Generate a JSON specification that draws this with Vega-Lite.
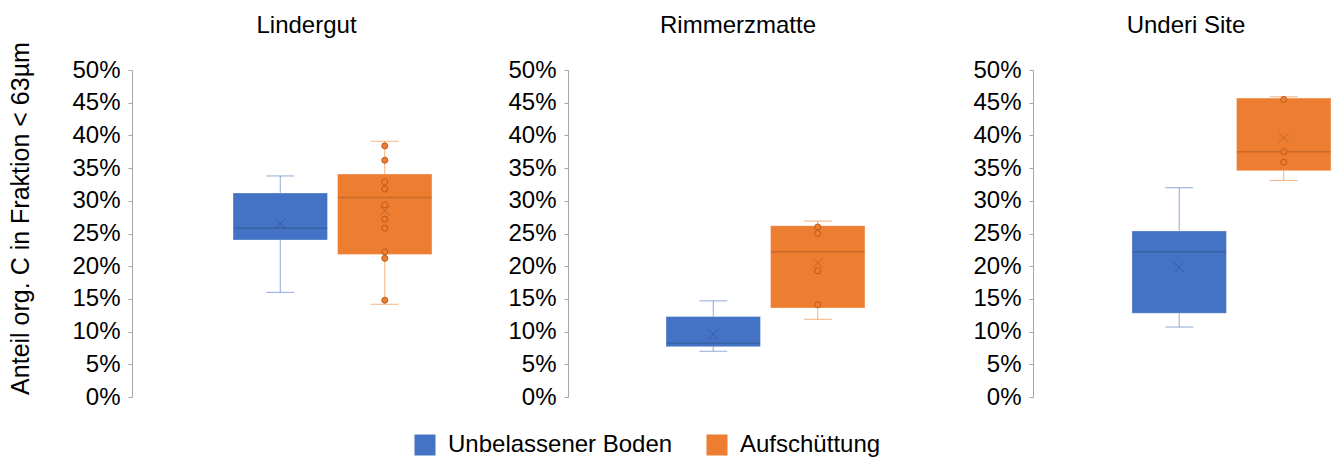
{
  "$schema": "https://vega.github.io/schema/vega-lite/v6.json",
  "background": "white",
  "padding": {"left": 8, "top": 13, "right": 0, "bottom": 0},
  "datasets": {
    "boxes": [
      {"panel": "Lindergut", "series": "Unbelassener Boden", "min": 0.160, "q1": 0.240, "median": 0.258, "q3": 0.312, "max": 0.338, "mean": 0.265},
      {"panel": "Lindergut", "series": "Aufschüttung", "min": 0.142, "q1": 0.218, "median": 0.305, "q3": 0.341, "max": 0.391, "mean": 0.285},
      {"panel": "Rimmerzmatte", "series": "Unbelassener Boden", "min": 0.070, "q1": 0.077, "median": 0.082, "q3": 0.123, "max": 0.147, "mean": 0.096},
      {"panel": "Rimmerzmatte", "series": "Aufschüttung", "min": 0.119, "q1": 0.136, "median": 0.222, "q3": 0.262, "max": 0.269, "mean": 0.205},
      {"panel": "Underi Site", "series": "Unbelassener Boden", "min": 0.107, "q1": 0.128, "median": 0.222, "q3": 0.254, "max": 0.320, "mean": 0.198},
      {"panel": "Underi Site", "series": "Aufschüttung", "min": 0.331, "q1": 0.346, "median": 0.375, "q3": 0.457, "max": 0.459, "mean": 0.396}
    ],
    "points": [
      {"panel": "Lindergut", "series": "Aufschüttung", "value": 0.384},
      {"panel": "Lindergut", "series": "Aufschüttung", "value": 0.362},
      {"panel": "Lindergut", "series": "Aufschüttung", "value": 0.329},
      {"panel": "Lindergut", "series": "Aufschüttung", "value": 0.318},
      {"panel": "Lindergut", "series": "Aufschüttung", "value": 0.294},
      {"panel": "Lindergut", "series": "Aufschüttung", "value": 0.272},
      {"panel": "Lindergut", "series": "Aufschüttung", "value": 0.258},
      {"panel": "Lindergut", "series": "Aufschüttung", "value": 0.222},
      {"panel": "Lindergut", "series": "Aufschüttung", "value": 0.212},
      {"panel": "Lindergut", "series": "Aufschüttung", "value": 0.148},
      {"panel": "Rimmerzmatte", "series": "Aufschüttung", "value": 0.260},
      {"panel": "Rimmerzmatte", "series": "Aufschüttung", "value": 0.250},
      {"panel": "Rimmerzmatte", "series": "Aufschüttung", "value": 0.193},
      {"panel": "Rimmerzmatte", "series": "Aufschüttung", "value": 0.141},
      {"panel": "Underi Site", "series": "Aufschüttung", "value": 0.455},
      {"panel": "Underi Site", "series": "Aufschüttung", "value": 0.375},
      {"panel": "Underi Site", "series": "Aufschüttung", "value": 0.359}
    ]
  },
  "spacing": 0,
  "resolve": {"scale": {"x": "independent", "y": "shared"}, "axis": {"y": "independent"}},
  "hconcat": [
    {
      "width": 375, "height": 327,
      "title": {"text": "Lindergut", "dx": -13, "offset": 4},
      "layer": [
        {"data": {"name": "boxes"}, "transform": [{"filter": "datum.panel === 'Lindergut'"}],
         "mark": {"type": "bar", "stroke": "white", "strokeOpacity": 0.35, "strokeWidth": 1},
         "encoding": {
           "x": {"field": "series", "type": "nominal", "axis": null, "scale": {"domain": ["Unbelassener Boden", "Aufschüttung"], "paddingInner": 0.0957, "paddingOuter": 0.842, "align": 0.574}},
           "y": {"field": "q1", "type": "quantitative", "scale": {"domain": [0, 0.5], "nice": false}, "axis": {"title": "Anteil org. C in Fraktion < 63µm", "format": ".0%", "titlePadding": 38, "titleFontSize": 25, "titleY": 148}},
           "y2": {"field": "q3"},
           "color": {"field": "series", "type": "nominal", "scale": {"domain": ["Unbelassener Boden", "Aufschüttung"], "range": ["#4472C4", "#ED7D31"]}, "legend": {"title": null}}
         }},
        {"data": {"name": "boxes"}, "transform": [{"filter": "datum.panel === 'Lindergut'"}],
         "mark": {"type": "rule", "opacity": 0.6, "strokeWidth": 1},
         "encoding": {"x": {"field": "series", "type": "nominal"}, "y": {"field": "q3", "type": "quantitative"}, "y2": {"field": "max"}, "color": {"field": "series", "type": "nominal"}}},
        {"data": {"name": "boxes"}, "transform": [{"filter": "datum.panel === 'Lindergut'"}],
         "mark": {"type": "rule", "opacity": 0.6, "strokeWidth": 1},
         "encoding": {"x": {"field": "series", "type": "nominal"}, "y": {"field": "min", "type": "quantitative"}, "y2": {"field": "q1"}, "color": {"field": "series", "type": "nominal"}}},
        {"data": {"name": "boxes"}, "transform": [{"filter": "datum.panel === 'Lindergut'"}],
         "mark": {"type": "tick", "size": 28, "thickness": 1, "opacity": 0.6},
         "encoding": {"x": {"field": "series", "type": "nominal"}, "y": {"field": "max", "type": "quantitative"}, "color": {"field": "series", "type": "nominal"}}},
        {"data": {"name": "boxes"}, "transform": [{"filter": "datum.panel === 'Lindergut'"}],
         "mark": {"type": "tick", "size": 28, "thickness": 1, "opacity": 0.6},
         "encoding": {"x": {"field": "series", "type": "nominal"}, "y": {"field": "min", "type": "quantitative"}, "color": {"field": "series", "type": "nominal"}}},
        {"data": {"name": "boxes"}, "transform": [{"filter": "datum.panel === 'Lindergut'"}],
         "mark": {"type": "tick", "size": 94, "thickness": 1.5, "color": "black", "opacity": 0.15},
         "encoding": {"x": {"field": "series", "type": "nominal"}, "y": {"field": "median", "type": "quantitative"}}},
        {"data": {"name": "boxes"}, "transform": [{"filter": "datum.panel === 'Lindergut'"}],
         "mark": {"type": "point", "shape": "M-1,-1L1,1M-1,1L1,-1", "size": 100, "filled": false, "stroke": "black", "strokeOpacity": 0.25, "strokeWidth": 1},
         "encoding": {"x": {"field": "series", "type": "nominal"}, "y": {"field": "mean", "type": "quantitative"}}},
        {"data": {"name": "points"}, "transform": [{"filter": "datum.panel === 'Lindergut'"}],
         "mark": {"type": "point", "shape": "circle", "filled": true, "size": 36, "opacity": 1, "stroke": "#C0581A", "strokeWidth": 1},
         "encoding": {"x": {"field": "series", "type": "nominal"}, "y": {"field": "value", "type": "quantitative"}, "color": {"field": "series", "type": "nominal"}}}
      ]
    },
    {
      "width": 404, "height": 327,
      "title": {"text": "Rimmerzmatte", "dx": -32},
      "layer": [
        {"data": {"name": "boxes"}, "transform": [{"filter": "datum.panel === 'Rimmerzmatte'"}],
         "mark": {"type": "bar", "stroke": "white", "strokeOpacity": 0.35, "strokeWidth": 1},
         "encoding": {
           "x": {"field": "series", "type": "nominal", "axis": null, "scale": {"domain": ["Unbelassener Boden", "Aufschüttung"], "paddingInner": 0.0957, "paddingOuter": 0.981, "align": 0.478}},
           "y": {"field": "q1", "type": "quantitative", "scale": {"domain": [0, 0.5], "nice": false}, "axis": {"title": null, "format": ".0%"}},
           "y2": {"field": "q3"},
           "color": {"field": "series", "type": "nominal", "scale": {"domain": ["Unbelassener Boden", "Aufschüttung"], "range": ["#4472C4", "#ED7D31"]}, "legend": {"title": null}}
         }},
        {"data": {"name": "boxes"}, "transform": [{"filter": "datum.panel === 'Rimmerzmatte'"}],
         "mark": {"type": "rule", "opacity": 0.6, "strokeWidth": 1},
         "encoding": {"x": {"field": "series", "type": "nominal"}, "y": {"field": "q3", "type": "quantitative"}, "y2": {"field": "max"}, "color": {"field": "series", "type": "nominal"}}},
        {"data": {"name": "boxes"}, "transform": [{"filter": "datum.panel === 'Rimmerzmatte'"}],
         "mark": {"type": "rule", "opacity": 0.6, "strokeWidth": 1},
         "encoding": {"x": {"field": "series", "type": "nominal"}, "y": {"field": "min", "type": "quantitative"}, "y2": {"field": "q1"}, "color": {"field": "series", "type": "nominal"}}},
        {"data": {"name": "boxes"}, "transform": [{"filter": "datum.panel === 'Rimmerzmatte'"}],
         "mark": {"type": "tick", "size": 28, "thickness": 1, "opacity": 0.6},
         "encoding": {"x": {"field": "series", "type": "nominal"}, "y": {"field": "max", "type": "quantitative"}, "color": {"field": "series", "type": "nominal"}}},
        {"data": {"name": "boxes"}, "transform": [{"filter": "datum.panel === 'Rimmerzmatte'"}],
         "mark": {"type": "tick", "size": 28, "thickness": 1, "opacity": 0.6},
         "encoding": {"x": {"field": "series", "type": "nominal"}, "y": {"field": "min", "type": "quantitative"}, "color": {"field": "series", "type": "nominal"}}},
        {"data": {"name": "boxes"}, "transform": [{"filter": "datum.panel === 'Rimmerzmatte'"}],
         "mark": {"type": "tick", "size": 94, "thickness": 1.5, "color": "black", "opacity": 0.15},
         "encoding": {"x": {"field": "series", "type": "nominal"}, "y": {"field": "median", "type": "quantitative"}}},
        {"data": {"name": "boxes"}, "transform": [{"filter": "datum.panel === 'Rimmerzmatte'"}],
         "mark": {"type": "point", "shape": "M-1,-1L1,1M-1,1L1,-1", "size": 100, "filled": false, "stroke": "black", "strokeOpacity": 0.25, "strokeWidth": 1},
         "encoding": {"x": {"field": "series", "type": "nominal"}, "y": {"field": "mean", "type": "quantitative"}}},
        {"data": {"name": "points"}, "transform": [{"filter": "datum.panel === 'Rimmerzmatte'"}],
         "mark": {"type": "point", "shape": "circle", "filled": true, "size": 36, "opacity": 1, "stroke": "#C0581A", "strokeWidth": 1},
         "encoding": {"x": {"field": "series", "type": "nominal"}, "y": {"field": "value", "type": "quantitative"}, "color": {"field": "series", "type": "nominal"}}}
      ]
    },
    {
      "width": 300, "height": 327,
      "title": {"text": "Underi Site", "dx": 3},
      "layer": [
        {"data": {"name": "boxes"}, "transform": [{"filter": "datum.panel === 'Underi Site'"}],
         "mark": {"type": "bar", "stroke": "white", "strokeOpacity": 0.35, "strokeWidth": 1},
         "encoding": {
           "x": {"field": "series", "type": "nominal", "axis": null, "scale": {"domain": ["Unbelassener Boden", "Aufschüttung"], "paddingInner": 0.0957, "paddingOuter": 0.483, "align": 0.98}},
           "y": {"field": "q1", "type": "quantitative", "scale": {"domain": [0, 0.5], "nice": false}, "axis": {"title": null, "format": ".0%"}},
           "y2": {"field": "q3"},
           "color": {"field": "series", "type": "nominal", "scale": {"domain": ["Unbelassener Boden", "Aufschüttung"], "range": ["#4472C4", "#ED7D31"]}, "legend": {"title": null}}
         }},
        {"data": {"name": "boxes"}, "transform": [{"filter": "datum.panel === 'Underi Site'"}],
         "mark": {"type": "rule", "opacity": 0.6, "strokeWidth": 1},
         "encoding": {"x": {"field": "series", "type": "nominal"}, "y": {"field": "q3", "type": "quantitative"}, "y2": {"field": "max"}, "color": {"field": "series", "type": "nominal"}}},
        {"data": {"name": "boxes"}, "transform": [{"filter": "datum.panel === 'Underi Site'"}],
         "mark": {"type": "rule", "opacity": 0.6, "strokeWidth": 1},
         "encoding": {"x": {"field": "series", "type": "nominal"}, "y": {"field": "min", "type": "quantitative"}, "y2": {"field": "q1"}, "color": {"field": "series", "type": "nominal"}}},
        {"data": {"name": "boxes"}, "transform": [{"filter": "datum.panel === 'Underi Site'"}],
         "mark": {"type": "tick", "size": 28, "thickness": 1, "opacity": 0.6},
         "encoding": {"x": {"field": "series", "type": "nominal"}, "y": {"field": "max", "type": "quantitative"}, "color": {"field": "series", "type": "nominal"}}},
        {"data": {"name": "boxes"}, "transform": [{"filter": "datum.panel === 'Underi Site'"}],
         "mark": {"type": "tick", "size": 28, "thickness": 1, "opacity": 0.6},
         "encoding": {"x": {"field": "series", "type": "nominal"}, "y": {"field": "min", "type": "quantitative"}, "color": {"field": "series", "type": "nominal"}}},
        {"data": {"name": "boxes"}, "transform": [{"filter": "datum.panel === 'Underi Site'"}],
         "mark": {"type": "tick", "size": 94, "thickness": 1.5, "color": "black", "opacity": 0.15},
         "encoding": {"x": {"field": "series", "type": "nominal"}, "y": {"field": "median", "type": "quantitative"}}},
        {"data": {"name": "boxes"}, "transform": [{"filter": "datum.panel === 'Underi Site'"}],
         "mark": {"type": "point", "shape": "M-1,-1L1,1M-1,1L1,-1", "size": 100, "filled": false, "stroke": "black", "strokeOpacity": 0.25, "strokeWidth": 1},
         "encoding": {"x": {"field": "series", "type": "nominal"}, "y": {"field": "mean", "type": "quantitative"}}},
        {"data": {"name": "points"}, "transform": [{"filter": "datum.panel === 'Underi Site'"}],
         "mark": {"type": "point", "shape": "circle", "filled": true, "size": 36, "opacity": 1, "stroke": "#C0581A", "strokeWidth": 1},
         "encoding": {"x": {"field": "series", "type": "nominal"}, "y": {"field": "value", "type": "quantitative"}, "color": {"field": "series", "type": "nominal"}}}
      ]
    }
  ],
  "config": {
    "font": "Liberation Sans",
    "view": {"stroke": null},
    "axis": {"labelFontSize": 24, "labelColor": "#000000", "labelOverlap": false, "domainColor": "#A6A6A6", "tickColor": "#A6A6A6", "tickSize": 4, "labelPadding": 8, "grid": false, "titleFontSize": 24, "titleFontWeight": "normal", "titleColor": "#000000"},
    "axisY": {"tickCount": 10, "labelOverlap": false, "labelFlush": false},
    "title": {"fontSize": 24, "fontWeight": "normal", "color": "#000000", "offset": 20},
    "legend": {"orient": "none", "legendX": 281, "legendY": 363, "direction": "horizontal", "symbolType": "square", "symbolSize": 441, "symbolStrokeWidth": 0, "symbolOpacity": 1, "labelFontSize": 24, "labelColor": "#000000", "labelOffset": 11, "labelLimit": 400, "columnPadding": 32}
  }
}
